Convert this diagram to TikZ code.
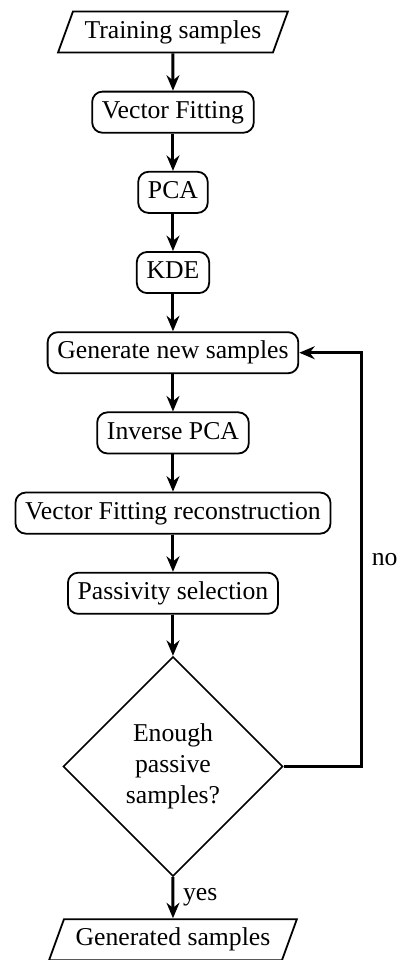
\documentclass[tikz,border=0pt]{standalone}
\usepackage{fontspec}
\setmainfont{Liberation Serif}
\usepackage{tikz}
\usetikzlibrary{shapes,arrows.meta,calc,positioning}

\begin{document}
\begin{tikzpicture}[
    node distance=14.5pt,
    proc/.style={draw, line width=0.7pt, rounded corners=4pt, inner xsep=3.8pt, inner ysep=3.4pt,
      text height=7pt, text depth=2.2pt},
    io/.style={draw, line width=0.7pt, trapezium, trapezium left angle=70, trapezium right angle=110,
      inner xsep=4.5pt, inner ysep=3.4pt, text height=7pt, text depth=2.2pt},
    decision/.style={draw, line width=0.6pt, diamond, aspect=1, align=center, inner sep=1pt,
      minimum width=85.5pt, minimum height=85.5pt},
    flow/.style={-{Stealth[length=6pt,width=5pt]}, line width=1.15pt}
  ]
      % Fix the page size
      \useasboundingbox (-67.3pt,12.45pt) rectangle (87.1pt,-361.1pt);
      % Define the steps
      \node[io] (train) {Training samples};
      \node[proc, below=of train] (vf) {Vector Fitting};
      \node[proc, below=of vf] (pca) {PCA};
      \node[proc, below=of pca] (kde) {KDE};
      \node[proc, below=of kde] (gen) {Generate new samples};
      \node[proc, below=of gen] (ipca) {Inverse PCA};
      \node[proc, below=of ipca] (vfr) {Vector Fitting reconstruction};
      \node[proc, below=of vfr] (pass) {Passivity selection};
      \node[decision, below=16pt of pass] (dec) {Enough\\passive\\samples?};
      \node[io, below=16pt of dec] (out) {Generated samples};
      % Loop back point
      \coordinate[right=30.4pt of dec] (back);
      % Draw the arrows
      \draw[flow] (train) -- (vf);
      \draw[flow] (vf) -- (pca);
      \draw[flow] (pca) -- (kde);
      \draw[flow] (kde) -- (gen);
      \draw[flow] (gen) -- (ipca);
      \draw[flow] (ipca) -- (vfr);
      \draw[flow] (vfr) -- (pass);
      \draw[flow] (pass) -- (dec);
      \draw[flow] (dec) -- node[right] {yes} (out);
      \draw[flow] (dec.east) -- (back) |- node[pos=0.25, right] {no} (gen.east);
\end{tikzpicture}
\end{document}
